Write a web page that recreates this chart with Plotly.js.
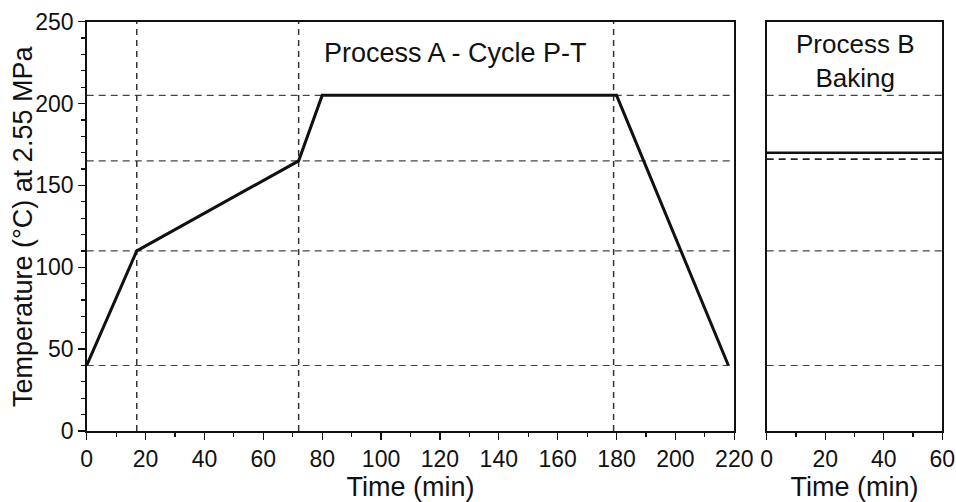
<!DOCTYPE html>
<html>
<head>
<meta charset="utf-8">
<script src="https://cdn.plot.ly/plotly-3.0.1.min.js"></script>
<style>html,body{margin:0;padding:0;background:#fff;}#chart{width:956px;height:502px;}</style>
</head>
<body>
<div id="chart"></div>
<script>
// Process A - Cycle P-T
const timeA = [0, 17, 72, 80, 180, 218];
const tempA = [40, 110, 165, 205, 205, 40];
// Process B - Baking
const timeB = [0, 60];
const tempB = [170, 170];
// dashed reference lines
const refTempsA = [40, 110, 165, 205];
const refTimesA = [17, 72, 179];
const refTempsB = [40, 110, 166, 205];
const rangeA = [0, 220];
const rangeB = [0, 60];
const rangeT = [0, 250];
const xTicksA = [0, 20, 40, 60, 80, 100, 120, 140, 160, 180, 200, 220];
const xTicksB = [0, 20, 40, 60];
const yTicks = [0, 50, 100, 150, 200, 250];

const FONT = 'Liberation Sans, Arial, sans-serif';
const traces = [];
const dashH = {color: '#444', width: 1.2, dash: '7px,5px'};
const dashV = {color: '#333', width: 1.5, dash: '6px,5px'};

refTempsA.forEach(t => traces.push({x: rangeA, y: [t, t], xaxis: 'x', yaxis: 'y', mode: 'lines', line: dashH, hoverinfo: 'skip', showlegend: false}));
refTimesA.forEach(tm => traces.push({x: [tm, tm], y: rangeT, xaxis: 'x', yaxis: 'y', mode: 'lines', line: dashV, hoverinfo: 'skip', showlegend: false}));
refTempsB.forEach(t => traces.push({x: rangeB, y: [t, t], xaxis: 'x2', yaxis: 'y2', mode: 'lines', line: (t === 166 ? {color: '#222', width: 1.8, dash: '7px,5px'} : dashH), hoverinfo: 'skip', showlegend: false}));

traces.push({x: timeA, y: tempA, xaxis: 'x', yaxis: 'y', mode: 'lines', line: {color: '#111', width: 3}, showlegend: false, name: 'Process A'});
traces.push({x: timeB, y: tempB, xaxis: 'x2', yaxis: 'y2', mode: 'lines', line: {color: '#111', width: 2.5}, showlegend: false, name: 'Process B'});

const W = 956, H = 502;
const axCommon = {
  showline: true, linecolor: '#111', linewidth: 1.5, mirror: true,
  showgrid: false, zeroline: false,
  ticks: 'outside', ticklen: 7, tickwidth: 1.3, tickcolor: '#111',
  tickfont: {family: FONT, size: 23, color: '#111'},
  automargin: false, fixedrange: true
};

const layout = {
  width: W, height: H,
  margin: {l: 0, r: 0, t: 0, b: 0},
  paper_bgcolor: '#fff', plot_bgcolor: '#fff',
  font: {family: FONT, color: '#111'},
  xaxis: Object.assign({}, axCommon, {
    domain: [86.7 / W, 734.3 / W], range: rangeA,
    tickmode: 'array', tickvals: xTicksA, ticktext: xTicksA.map(String),
    minor: {dtick: 10, ticks: 'outside', ticklen: 4, tickwidth: 1.2, tickcolor: '#111', showgrid: false},
    title: {text: 'Time (min)', font: {family: FONT, size: 27, color: '#111'}, standoff: 2}
  }),
  yaxis: Object.assign({}, axCommon, {
    domain: [71 / H, 480.3 / H], range: rangeT,
    tickmode: 'array', tickvals: yTicks, ticktext: yTicks.map(String),
    minor: {dtick: 10, ticks: 'outside', ticklen: 4, tickwidth: 1.2, tickcolor: '#111', showgrid: false}
  }),
  xaxis2: Object.assign({}, axCommon, {
    domain: [766.7 / W, 942.3 / W], range: rangeB, anchor: 'y2',
    tickmode: 'array', tickvals: xTicksB, ticktext: xTicksB.map(String),
    minor: {dtick: 10, ticks: 'outside', ticklen: 4, tickwidth: 1.2, tickcolor: '#111', showgrid: false},
    title: {text: 'Time (min)', font: {family: FONT, size: 27, color: '#111'}, standoff: 2}
  }),
  yaxis2: Object.assign({}, axCommon, {
    domain: [71 / H, 480.3 / H], range: rangeT, anchor: 'x2',
    ticks: '', showticklabels: false
  }),
  annotations: [
    {text: 'Temperature (°C) at 2.55 MPa', xref: 'paper', yref: 'paper', x: 23 / W, y: 1 - 227 / H,
     xanchor: 'center', yanchor: 'middle', textangle: -90, showarrow: false, font: {family: FONT, size: 27, color: '#111'}},
    {text: 'Process A - Cycle P-T', xref: 'paper', yref: 'paper', x: 455 / W, y: 1 - 53 / H,
     xanchor: 'center', yanchor: 'middle', showarrow: false, font: {family: FONT, size: 27, color: '#111'}},
    {text: 'Process B<br>Baking', xref: 'paper', yref: 'paper', x: 855 / W, y: 1 - 61 / H,
     xanchor: 'center', yanchor: 'middle', showarrow: false, font: {family: FONT, size: 26, color: '#111'}}
  ]
};

Plotly.newPlot('chart', traces, layout, {displayModeBar: false, staticPlot: true});
</script>
</body>
</html>
